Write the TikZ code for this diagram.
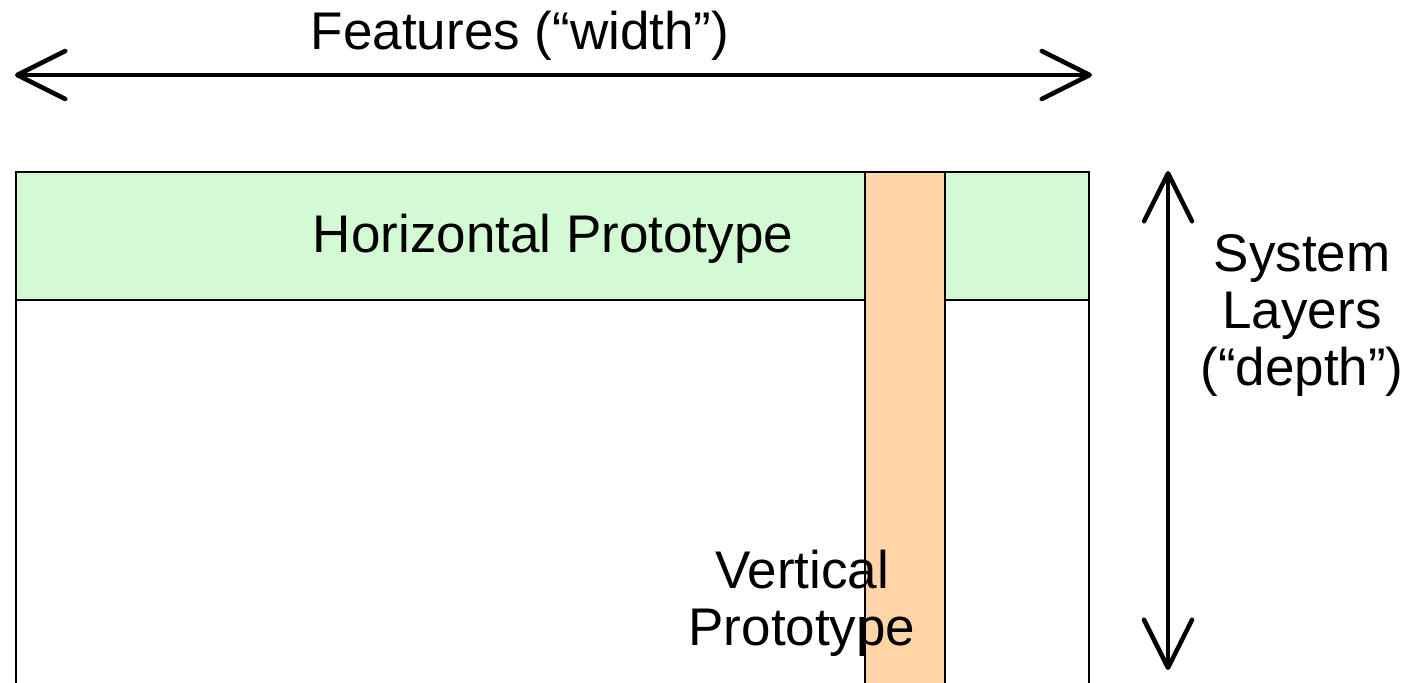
\documentclass[tikz,border=0pt]{standalone}
\usepackage{fontspec}
\setmainfont{Liberation Sans}
\usetikzlibrary{arrows.meta}
\definecolor{hgreen}{HTML}{D4FAD4}
\definecolor{vorange}{HTML}{FFD5A8}
\tikzset{
  label text/.style={font=\fontsize{53}{57}\selectfont, inner sep=0pt, align=center},
  outer frame/.style={draw=black, line width=1.6pt, fill=white},
  band/.style={draw=black, line width=2.4pt},
  dimension/.style={line width=4.5pt, {Straight Barb[length=48pt, width=48pt, round]}-{Straight Barb[length=48pt, width=48pt, round]}}
}
\begin{document}
\begin{tikzpicture}[x=1pt, y=-1pt]
\useasboundingbox (0,0) rectangle (1412,682);

% whole system: features across, layers down
\draw[outer frame] (16,172) rectangle (1089,720);
% horizontal slice across all features
\draw[band, fill=hgreen] (16,172) rectangle (1089,300);
% vertical slice through all layers
\draw[band, fill=vorange] (865,172) rectangle (945,720);

\node[label text, anchor=base] (hp) at (553,252) {Horizontal Prototype};
\node[label text] (vp) at (802,603.5) {Vertical\\Prototype};

% width axis
\coordinate (wl) at (15,75);
\coordinate (wr) at (1092,75);
\draw[dimension] (wl) -- (wr);
\node[label text, anchor=base] (wlab) at (520,50) {Features (“width”)};

% depth axis
\coordinate (dt) at (1168,171);
\coordinate (db) at (1168,670);
\draw[dimension] (dt) -- (db);
\node[label text] (dlab) at (1302,315) {System\\Layers\\(“depth”)};
\end{tikzpicture}
\end{document}
